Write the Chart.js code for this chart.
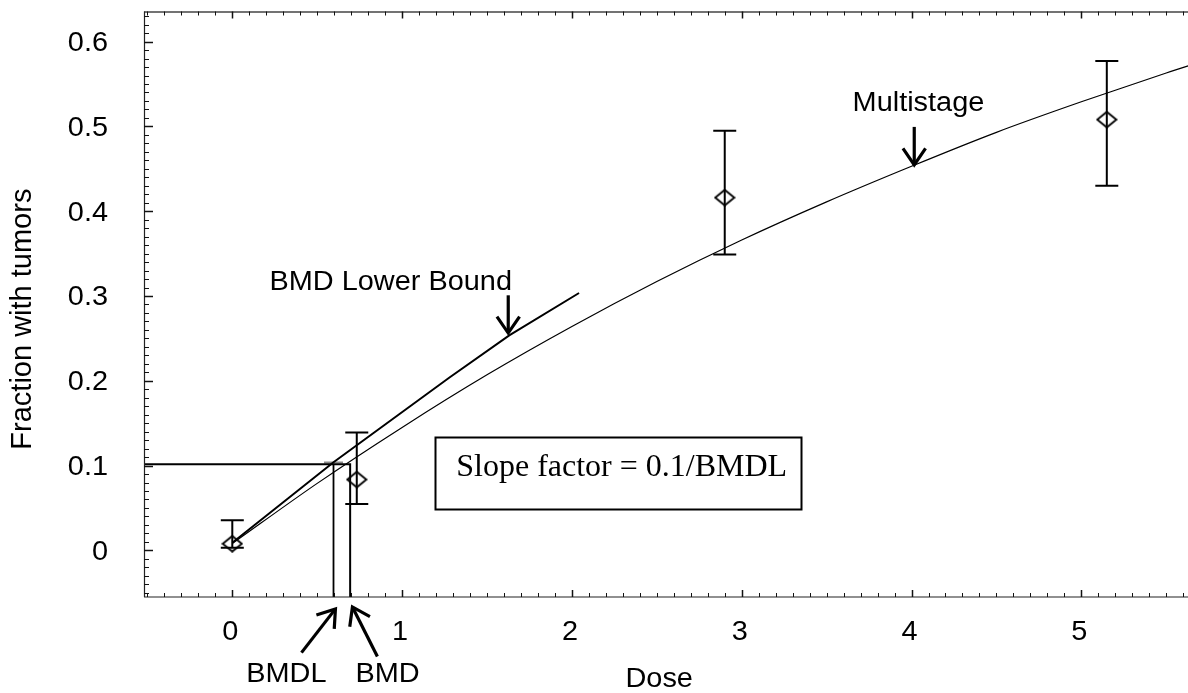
<!DOCTYPE html>
<html>
<head>
<meta charset="utf-8">
<script src="https://cdn.jsdelivr.net/npm/chart.js@4.4.1/dist/chart.umd.min.js"></script>
<style>
  html, body { margin: 0; padding: 0; background: #fff; overflow: hidden; }
  #wrap { position: absolute; left: 0; top: 0; width: 1210px; height: 693px; }
</style>
</head>
<body>
<div id="wrap"><canvas id="c" width="1210" height="693"></canvas></div>
<script>
// Observed tumor incidence by dose, with confidence limits
const obsDose  = [0, 0.733, 2.90, 5.15];
const obsFrac  = [0.0078, 0.0835, 0.416, 0.508];
const obsLower = [0.003, 0.0547, 0.349, 0.430];
const obsUpper = [0.0355, 0.139, 0.495, 0.577];

// Fitted multistage curve
const msDose = [0, 0.5, 1, 1.5, 2, 2.5, 3, 3.5, 4, 4.5, 5, 5.5, 5.75];
const msFrac = [0.008, 0.079, 0.145, 0.207, 0.264, 0.317, 0.366, 0.411, 0.453, 0.493, 0.529, 0.563, 0.579];

// Lower confidence bound curve
const lbDose = [0, 0.596, 1.277, 1.631, 2.042];
const lbFrac = [0.009, 0.104, 0.2036, 0.2536, 0.3035];

// Benchmark response and doses
const bmr  = 0.1015;
const bmd  = 0.694;
const bmdl = 0.596;

// Axis ticks
const xTickValues = [0, 1, 2, 3, 4, 5];
const xTickLabels = ['0', '1', '2', '3', '4', '5'];
const yTickValues = [0, 0.1, 0.2, 0.3, 0.4, 0.5, 0.6];
const yTickLabels = ['0', '0.1', '0.2', '0.3', '0.4', '0.5', '0.6'];

const X_MIN = -0.52, X_MAX = 5.69;
const Y_MIN = -0.055, Y_MAX = 0.6355;

const SANS = '"Liberation Sans", Arial, Helvetica, sans-serif';
const SERIF = '"Liberation Serif", "Times New Roman", serif';
const LABEL_FONT = '27px ' + SANS;
const SX = 1.07; // horizontal widening of sans labels

// Open diamond marker
const diamond = document.createElement('canvas');
diamond.width = 22; diamond.height = 18;
(function () {
  const g = diamond.getContext('2d');
  g.strokeStyle = '#000';
  g.lineWidth = 1.9;
  g.beginPath();
  g.moveTo(11, 1.3); g.lineTo(20.6, 9); g.lineTo(11, 16.7); g.lineTo(1.4, 9); g.closePath();
  g.stroke();
})();

function pts(xs, ys) { return xs.map((x, i) => ({ x: x, y: ys[i] })); }

function wideText(ctx, str, px, py, align, font, sx) {
  ctx.save();
  ctx.translate(px, py);
  ctx.scale(sx, 1);
  ctx.font = font;
  ctx.textAlign = align;
  ctx.fillStyle = '#000';
  ctx.fillText(str, 0, 0);
  ctx.restore();
}

function arrow(ctx, x0, y0, x1, y1) {
  const ang = Math.atan2(y1 - y0, x1 - x0);
  const len = 20, spread = 0.6;
  ctx.save();
  ctx.strokeStyle = '#000';
  ctx.lineWidth = 3.2;
  ctx.lineCap = 'butt';
  ctx.lineJoin = 'miter';
  ctx.beginPath();
  ctx.moveTo(x0, y0); ctx.lineTo(x1, y1);
  ctx.stroke();
  ctx.beginPath();
  ctx.moveTo(x1 - len * Math.cos(ang - spread), y1 - len * Math.sin(ang - spread));
  ctx.lineTo(x1, y1);
  ctx.lineTo(x1 - len * Math.cos(ang + spread), y1 - len * Math.sin(ang + spread));
  ctx.stroke();
  ctx.restore();
}

// Frame, tick marks, tick labels and axis titles
const framePlugin = {
  id: 'frame',
  afterDraw(chart) {
    const ctx = chart.ctx, a = chart.chartArea;
    const xs = chart.scales.x, ys = chart.scales.y;
    ctx.save();
    ctx.lineCap = 'butt';
    // axis lines
    ctx.strokeStyle = '#444';
    ctx.lineWidth = 1.5;
    ctx.beginPath(); ctx.moveTo(a.left, a.top + 0.5); ctx.lineTo(a.right, a.top + 0.5); ctx.stroke();
    ctx.lineWidth = 1.2;
    ctx.strokeStyle = '#222';
    ctx.beginPath(); ctx.moveTo(a.left, a.bottom); ctx.lineTo(a.right, a.bottom); ctx.stroke();
    ctx.beginPath(); ctx.moveTo(a.left + 0.5, a.top); ctx.lineTo(a.left + 0.5, a.bottom); ctx.stroke();

    // x ticks every 0.1, major at integers (top and bottom, pointing inward)
    ctx.strokeStyle = '#111';
    for (let i = -5; i <= 57; i++) {
      const px = Math.round(xs.getPixelForValue(i / 10)) + 0.5;
      if (px <= a.left + 1 || px > a.right) continue;
      const major = i % 10 === 0;
      const L = major ? 7 : 4;
      ctx.lineWidth = major ? 1.5 : 1;
      ctx.beginPath();
      ctx.moveTo(px, a.top); ctx.lineTo(px, a.top + L);
      ctx.moveTo(px, a.bottom); ctx.lineTo(px, a.bottom - L);
      ctx.stroke();
    }
    // y ticks every 0.01, major every 0.1 (left, pointing inward)
    for (let i = -5; i <= 63; i++) {
      const py = Math.round(ys.getPixelForValue(i / 100)) + 0.5;
      if (py < a.top || py > a.bottom - 1) continue;
      const major = i % 10 === 0;
      ctx.lineWidth = major ? 1.5 : 1;
      ctx.beginPath();
      ctx.moveTo(a.left, py); ctx.lineTo(a.left + (major ? 9 : 5), py);
      ctx.stroke();
    }
    ctx.restore();

    // tick labels
    ctx.save();
    ctx.textBaseline = 'middle';
    xTickValues.forEach((v, i) => {
      wideText(ctx, xTickLabels[i], xs.getPixelForValue(v) - 2, a.bottom + 36, 'center', LABEL_FONT, SX);
    });
    yTickValues.forEach((v, i) => {
      wideText(ctx, yTickLabels[i], a.left - 36, ys.getPixelForValue(v) + 2, 'right', LABEL_FONT, SX);
    });
    ctx.restore();

    // axis titles
    ctx.save();
    ctx.textBaseline = 'alphabetic';
    wideText(ctx, 'Dose', xs.getPixelForValue(2.514), ys.getPixelForValue(-0.1615), 'center', LABEL_FONT, SX);
    ctx.restore();
    ctx.save();
    ctx.translate(xs.getPixelForValue(-1.233), ys.getPixelForValue(0.2727));
    ctx.rotate(-Math.PI / 2);
    ctx.font = '29px ' + SANS;
    ctx.textAlign = 'center';
    ctx.textBaseline = 'middle';
    ctx.fillStyle = '#000';
    ctx.fillText('Fraction with tumors', 0, 0);
    ctx.restore();
  }
};

// Confidence-limit bars for the observed points
const errorBarPlugin = {
  id: 'errorBars',
  afterDatasetsDraw(chart) {
    const ctx = chart.ctx, xs = chart.scales.x, ys = chart.scales.y;
    ctx.save();
    ctx.strokeStyle = '#000';
    ctx.lineWidth = 2;
    obsDose.forEach((d, i) => {
      const px = xs.getPixelForValue(d);
      const yl = ys.getPixelForValue(obsLower[i]);
      const yu = ys.getPixelForValue(obsUpper[i]);
      ctx.beginPath();
      ctx.moveTo(px, yu); ctx.lineTo(px, yl);
      ctx.moveTo(px - 11.5, yu); ctx.lineTo(px + 11.5, yu);
      ctx.moveTo(px - 11.5, yl); ctx.lineTo(px + 11.5, yl);
      ctx.stroke();
    });
    ctx.restore();
  }
};

// Callouts: labels, arrows and the slope factor box
const calloutPlugin = {
  id: 'callouts',
  afterDraw(chart) {
    const ctx = chart.ctx, xs = chart.scales.x, ys = chart.scales.y;
    const X = v => xs.getPixelForValue(v), Y = v => ys.getPixelForValue(v);
    ctx.save();
    ctx.textBaseline = 'alphabetic';
    wideText(ctx, 'BMD Lower Bound', X(0.219), Y(0.3067), 'left', LABEL_FONT, SX);
    arrow(ctx, X(1.625), Y(0.3008), X(1.625), Y(0.2563));
    wideText(ctx, 'Multistage', X(3.653), Y(0.518), 'left', LABEL_FONT, SX);
    arrow(ctx, X(4.016), Y(0.4994), X(4.016), Y(0.4545));
    wideText(ctx, 'BMDL', X(0.082), Y(-0.1557), 'left', LABEL_FONT, SX);
    wideText(ctx, 'BMD', X(0.725), Y(-0.1557), 'left', LABEL_FONT, SX);
    arrow(ctx, X(0.4075), Y(-0.1206), X(0.6074), Y(-0.069));
    arrow(ctx, X(0.8544), Y(-0.1252), X(0.7074), Y(-0.0667));

    // slope factor box
    const bx0 = Math.round(X(1.1955)) + 0.5, bx1 = Math.round(X(3.348)) + 0.5;
    const by0 = Math.round(Y(0.1334)) + 0.5, by1 = Math.round(Y(0.0488)) + 0.5;
    ctx.strokeStyle = '#000';
    ctx.lineWidth = 2;
    ctx.strokeRect(bx0, by0, bx1 - bx0, by1 - by0);
    ctx.font = '32px ' + SERIF;
    ctx.fillStyle = '#000';
    ctx.textAlign = 'left';
    ctx.fillText('Slope factor = 0.1/BMDL', X(1.319), Y(0.0878));
    ctx.restore();
  }
};

new Chart(document.getElementById('c'), {
  type: 'scatter',
  data: {
    datasets: [
      {
        label: 'Multistage',
        data: pts(msDose, msFrac),
        showLine: true,
        borderColor: '#000',
        borderWidth: 1.2,
        pointRadius: 0,
        cubicInterpolationMode: 'monotone'
      },
      {
        label: 'BMD Lower Bound',
        data: pts(lbDose, lbFrac),
        showLine: true,
        borderColor: '#000',
        borderWidth: 2,
        pointRadius: 0
      },
      {
        label: 'BMR',
        data: [{ x: X_MIN, y: bmr }, { x: bmd, y: bmr }, { x: bmd, y: Y_MIN }],
        showLine: true,
        borderColor: '#000',
        borderWidth: 2,
        pointRadius: 0
      },
      {
        label: 'BMDL',
        data: [{ x: bmdl, y: bmr }, { x: bmdl, y: Y_MIN }],
        showLine: true,
        borderColor: '#000',
        borderWidth: 1.8,
        pointRadius: 0
      },
      {
        label: 'BMDL mark',
        data: [{ x: bmdl, y: bmr + 0.002 }],
        pointStyle: 'line',
        pointRadius: 9.5,
        borderColor: '#888',
        borderWidth: 2
      },
      {
        label: 'Observed',
        data: pts(obsDose, obsFrac),
        pointStyle: diamond,
        pointRadius: 9,
        borderColor: '#000'
      }
    ]
  },
  options: {
    responsive: false,
    animation: false,
    devicePixelRatio: 1,
    layout: { padding: { left: 144, top: 7, right: 10, bottom: 96 } },
    plugins: { legend: { display: false }, tooltip: { enabled: false } },
    scales: {
      x: { type: 'linear', min: X_MIN, max: X_MAX, display: false },
      y: { type: 'linear', min: Y_MIN, max: Y_MAX, display: false }
    }
  },
  plugins: [errorBarPlugin, framePlugin, calloutPlugin]
});
</script>
</body>
</html>
